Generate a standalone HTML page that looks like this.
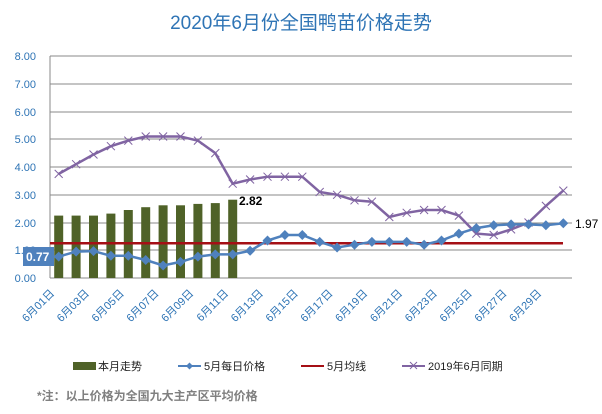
<!DOCTYPE html>
<html><head><meta charset="utf-8"><style>
html,body{margin:0;padding:0;background:#fff}
svg{display:block;font-family:"Liberation Sans","Noto Sans CJK SC",sans-serif}
</style></head><body>
<svg width="602" height="414" viewBox="0 0 602 414" xmlns="http://www.w3.org/2000/svg">
<rect width="602" height="414" fill="#fff"/>
<text x="301" y="29" text-anchor="middle" font-size="19" fill="#2e74b5">2020年6月份全国鸭苗价格走势</text>
<g stroke="#888" stroke-width="1">
<line x1="50" y1="56" x2="572" y2="56"/><line x1="50" y1="84" x2="572" y2="84"/><line x1="50" y1="112" x2="572" y2="112"/><line x1="50" y1="139" x2="572" y2="139"/><line x1="50" y1="167" x2="572" y2="167"/><line x1="50" y1="195" x2="572" y2="195"/><line x1="50" y1="223" x2="572" y2="223"/><line x1="50" y1="250" x2="572" y2="250"/><line x1="50" y1="278" x2="572" y2="278"/><line x1="50" y1="56" x2="50" y2="278"/>
</g>
<g font-size="11" fill="#2e74b5" text-anchor="end">
<text x="36" y="60">8.00</text><text x="36" y="88">7.00</text><text x="36" y="116">6.00</text><text x="36" y="143">5.00</text><text x="36" y="171">4.00</text><text x="36" y="199">3.00</text><text x="36" y="227">2.00</text><text x="36" y="254">1.00</text><text x="36" y="282">0.00</text>
</g>
<g fill="#4f6228">
<rect x="54.2" y="215.6" width="9" height="62.4"/><rect x="71.6" y="215.6" width="9" height="62.4"/><rect x="89" y="215.6" width="9" height="62.4"/><rect x="106.4" y="213.6" width="9" height="64.4"/><rect x="123.8" y="210" width="9" height="68"/><rect x="141.2" y="207.2" width="9" height="70.8"/><rect x="158.6" y="205.3" width="9" height="72.7"/><rect x="176" y="205.3" width="9" height="72.7"/><rect x="193.4" y="203.9" width="9" height="74.1"/><rect x="210.8" y="203.1" width="9" height="74.9"/><rect x="228.2" y="199.7" width="9" height="78.3"/>
</g>
<line x1="50" y1="243.3" x2="563" y2="243.3" stroke="#a50f15" stroke-width="2.5"/>
<polyline fill="none" stroke="#8064a2" stroke-width="2.5" points="58.7,173.9 76.1,164.2 93.5,154.5 110.9,146.2 128.3,140.6 145.7,136.5 163.1,136.5 180.5,136.5 197.9,140.6 215.3,153.1 232.7,183.7 250.1,179.5 267.5,176.7 284.9,176.7 302.3,176.7 319.7,192 337.1,194.8 354.5,200.3 371.9,201.7 389.3,217 406.7,212.8 424.1,210 441.5,210 458.9,215.6 476.3,233.6 493.7,235 511.1,229.4 528.5,222.5 545.9,205.9 563.3,190.6"/>
<g stroke="#8064a2" stroke-width="1" id="xm">
<path d="M54.7,169.9l8,8M62.7,169.9l-8,8M72.1,160.2l8,8M80.1,160.2l-8,8M89.5,150.5l8,8M97.5,150.5l-8,8M106.9,142.2l8,8M114.9,142.2l-8,8M124.3,136.6l8,8M132.3,136.6l-8,8M141.7,132.5l8,8M149.7,132.5l-8,8M159.1,132.5l8,8M167.1,132.5l-8,8M176.5,132.5l8,8M184.5,132.5l-8,8M193.9,136.6l8,8M201.9,136.6l-8,8M211.3,149.1l8,8M219.3,149.1l-8,8M228.7,179.7l8,8M236.7,179.7l-8,8M246.1,175.5l8,8M254.1,175.5l-8,8M263.5,172.7l8,8M271.5,172.7l-8,8M280.9,172.7l8,8M288.9,172.7l-8,8M298.3,172.7l8,8M306.3,172.7l-8,8M315.7,188l8,8M323.7,188l-8,8M333.1,190.8l8,8M341.1,190.8l-8,8M350.5,196.3l8,8M358.5,196.3l-8,8M367.9,197.7l8,8M375.9,197.7l-8,8M385.3,213l8,8M393.3,213l-8,8M402.7,208.8l8,8M410.7,208.8l-8,8M420.1,206l8,8M428.1,206l-8,8M437.5,206l8,8M445.5,206l-8,8M454.9,211.6l8,8M462.9,211.6l-8,8M472.3,229.6l8,8M480.3,229.6l-8,8M489.7,231l8,8M497.7,231l-8,8M507.1,225.4l8,8M515.1,225.4l-8,8M524.5,218.5l8,8M532.5,218.5l-8,8M541.9,201.9l8,8M549.9,201.9l-8,8M559.3,186.6l8,8M567.3,186.6l-8,8"/>
</g>
<polyline fill="none" stroke="#4f81bd" stroke-width="2.5" points="58.7,256.6 76.1,251.6 93.5,251.1 110.9,255.8 128.3,255.8 145.7,260 163.1,265.5 180.5,261.9 197.9,256.6 215.3,254.4 232.7,254.4 250.1,250.8 267.5,240.5 284.9,235 302.3,235 319.7,241.9 337.1,247.5 354.5,244.7 371.9,241.9 389.3,241.9 406.7,241.9 424.1,244.7 441.5,240.5 458.9,233.6 476.3,228.1 493.7,225.3 511.1,224.4 528.5,224.4 545.9,225.3 563.3,223.3"/>
<g fill="#4f81bd">
<path d="M58.7,251.6l5,5-5,5-5-5zM76.1,246.6l5,5-5,5-5-5zM93.5,246.1l5,5-5,5-5-5zM110.9,250.8l5,5-5,5-5-5zM128.3,250.8l5,5-5,5-5-5zM145.7,255l5,5-5,5-5-5zM163.1,260.5l5,5-5,5-5-5zM180.5,256.9l5,5-5,5-5-5zM197.9,251.6l5,5-5,5-5-5zM215.3,249.4l5,5-5,5-5-5zM232.7,249.4l5,5-5,5-5-5zM250.1,245.8l5,5-5,5-5-5zM267.5,235.5l5,5-5,5-5-5zM284.9,230l5,5-5,5-5-5zM302.3,230l5,5-5,5-5-5zM319.7,236.9l5,5-5,5-5-5zM337.1,242.5l5,5-5,5-5-5zM354.5,239.7l5,5-5,5-5-5zM371.9,236.9l5,5-5,5-5-5zM389.3,236.9l5,5-5,5-5-5zM406.7,236.9l5,5-5,5-5-5zM424.1,239.7l5,5-5,5-5-5zM441.5,235.5l5,5-5,5-5-5zM458.9,228.6l5,5-5,5-5-5zM476.3,223.1l5,5-5,5-5-5zM493.7,220.3l5,5-5,5-5-5zM511.1,219.4l5,5-5,5-5-5zM528.5,219.4l5,5-5,5-5-5zM545.9,220.3l5,5-5,5-5-5zM563.3,218.3l5,5-5,5-5-5z"/>
</g>
<rect x="23" y="247" width="31" height="19" fill="#4f81bd"/>
<text x="26" y="261" font-size="12" font-weight="bold" fill="#fff">0.77</text>
<text x="239" y="205" font-size="12" font-weight="bold" fill="#000">2.82</text>
<text x="575" y="228" font-size="12" fill="#000">1.97</text>
<g font-size="11" fill="#2e74b5" text-anchor="end">
<text transform="translate(55,294) rotate(-45)">6月01日</text>
<text transform="translate(89.8,294) rotate(-45)">6月03日</text>
<text transform="translate(124.6,294) rotate(-45)">6月05日</text>
<text transform="translate(159.4,294) rotate(-45)">6月07日</text>
<text transform="translate(194.2,294) rotate(-45)">6月09日</text>
<text transform="translate(229,294) rotate(-45)">6月11日</text>
<text transform="translate(263.8,294) rotate(-45)">6月13日</text>
<text transform="translate(298.6,294) rotate(-45)">6月15日</text>
<text transform="translate(333.4,294) rotate(-45)">6月17日</text>
<text transform="translate(368.2,294) rotate(-45)">6月19日</text>
<text transform="translate(403,294) rotate(-45)">6月21日</text>
<text transform="translate(437.8,294) rotate(-45)">6月23日</text>
<text transform="translate(472.6,294) rotate(-45)">6月25日</text>
<text transform="translate(507.4,294) rotate(-45)">6月27日</text>
<text transform="translate(542.2,294) rotate(-45)">6月29日</text>
</g>
<g font-size="11" fill="#222">
<rect x="73" y="362" width="23" height="8" fill="#4f6228"/><text x="98" y="370">本月走势</text>
<line x1="178" y1="366" x2="201" y2="366" stroke="#4f81bd" stroke-width="2"/><path d="M189.5,362.5l3.5,3.5-3.5,3.5-3.5-3.5z" fill="#4f81bd"/><text x="204" y="370">5月每日价格</text>
<line x1="301" y1="366" x2="324" y2="366" stroke="#a50f15" stroke-width="2"/><text x="327" y="370">5月均线</text>
<line x1="402" y1="366" x2="425" y2="366" stroke="#8064a2" stroke-width="2"/><path d="M410,362l7,7M417,362l-7,7" stroke="#8064a2"/><text x="428" y="370">2019年6月同期</text>
</g>
<text x="37" y="400" font-size="12" font-weight="bold" fill="#808080">*注：以上价格为全国九大主产区平均价格</text>
</svg>
</body></html>
